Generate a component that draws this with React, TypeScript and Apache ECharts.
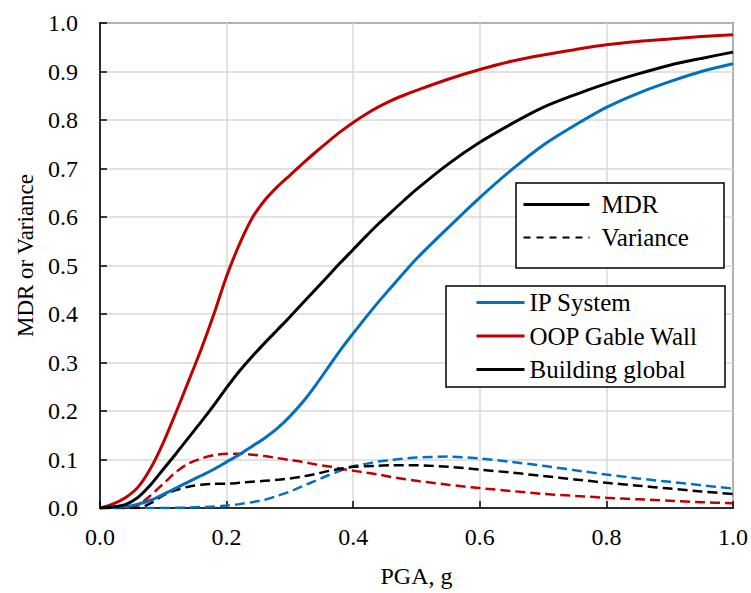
import React, { useEffect, useRef } from "react";
import * as echarts from "echarts";

const pga = [0, 0.02, 0.04, 0.06, 0.08, 0.1, 0.12, 0.14, 0.16, 0.18, 0.2, 0.22, 0.24, 0.26, 0.28, 0.3, 0.32, 0.34, 0.36, 0.38, 0.4, 0.42, 0.44, 0.46, 0.48, 0.5, 0.55, 0.6, 0.65, 0.7, 0.75, 0.8, 0.85, 0.9, 0.95, 1.0];

const ipMdr = [0, 0.001, 0.003, 0.008, 0.016, 0.028, 0.041, 0.054, 0.067, 0.08, 0.095, 0.11, 0.127, 0.144, 0.164, 0.189, 0.218, 0.252, 0.289, 0.326, 0.36, 0.393, 0.425, 0.455, 0.485, 0.514, 0.578, 0.64, 0.697, 0.748, 0.789, 0.826, 0.855, 0.879, 0.9, 0.916];
const oopMdr = [0, 0.008, 0.021, 0.043, 0.082, 0.135, 0.197, 0.262, 0.328, 0.4, 0.478, 0.543, 0.597, 0.634, 0.662, 0.686, 0.71, 0.733, 0.755, 0.776, 0.795, 0.812, 0.827, 0.84, 0.851, 0.861, 0.884, 0.904, 0.921, 0.934, 0.945, 0.955, 0.962, 0.967, 0.972, 0.976];
const bldMdr = [0, 0.002, 0.007, 0.022, 0.048, 0.08, 0.112, 0.145, 0.178, 0.212, 0.248, 0.282, 0.312, 0.34, 0.367, 0.394, 0.422, 0.45, 0.478, 0.506, 0.533, 0.56, 0.586, 0.61, 0.634, 0.657, 0.709, 0.754, 0.792, 0.826, 0.852, 0.875, 0.895, 0.913, 0.927, 0.94];

const ipVar = [0, 0, 0, 0, 0, 0, 0.0005, 0.001, 0.002, 0.003, 0.005, 0.008, 0.012, 0.017, 0.025, 0.034, 0.045, 0.056, 0.067, 0.077, 0.086, 0.091, 0.096, 0.099, 0.102, 0.104, 0.106, 0.102, 0.095, 0.087, 0.078, 0.069, 0.061, 0.054, 0.047, 0.04];
const oopVar = [0, 0, 0, 0.006, 0.026, 0.05, 0.074, 0.092, 0.102, 0.109, 0.112, 0.112, 0.11, 0.107, 0.103, 0.099, 0.095, 0.09, 0.086, 0.081, 0.077, 0.073, 0.069, 0.064, 0.06, 0.056, 0.048, 0.041, 0.035, 0.029, 0.025, 0.021, 0.018, 0.015, 0.012, 0.01];
const bldVar = [0, 0, 0, 0, 0.01, 0.026, 0.037, 0.044, 0.048, 0.05, 0.05, 0.052, 0.054, 0.056, 0.058, 0.061, 0.065, 0.07, 0.076, 0.081, 0.085, 0.086, 0.087, 0.088, 0.088, 0.088, 0.085, 0.079, 0.073, 0.066, 0.059, 0.052, 0.046, 0.04, 0.034, 0.029];

const styleLegend = ["MDR", "Variance"];
const systemLegend = ["IP System", "OOP Gable Wall", "Building global"];

const BLUE = "#0070C0";
const RED = "#C00000";
const BLACK = "#000000";
const FONT = "Liberation Serif";
const DASH = [10, 5];

const pairs = (ys: number[]) => pga.map((x, i) => [x, ys[i]]);

export default function App() {
  const ref = useRef<HTMLDivElement>(null);
  useEffect(() => {
    if (!ref.current) return;
    const chart = echarts.init(ref.current, undefined, { renderer: "svg" });
    const line = (name: string, color: string, ys: number[] | null, dashed: boolean) => ({
      name,
      type: "line",
      data: ys ? pairs(ys) : [],
      smooth: 0.3,
      symbol: "none",
      showSymbol: false,
      itemStyle: { color },
      lineStyle: dashed ? { color, width: 2.5, type: DASH } : { color, width: 3 },
      z: dashed ? 2 : 3,
    });
    const legendText = { fontFamily: FONT, fontSize: 25, color: BLACK };
    chart.setOption({
      animation: false,
      backgroundColor: "#fff",
      textStyle: { fontFamily: FONT },
      grid: {
        left: 100,
        right: 18,
        top: 23,
        bottom: 82,
        show: true,
        borderColor: BLACK,
        borderWidth: 1.5,
      },
      legend: [
        {
          data: [
            { name: styleLegend[0] },
            { name: styleLegend[1], lineStyle: { width: 2, type: [7, 6] } },
          ],
          orient: "vertical",
          left: 522,
          top: 192,
          padding: 0,
          itemWidth: 66,
          itemHeight: 14,
          itemGap: 8,
          selectedMode: false,
          z: 20,
          itemStyle: { opacity: 0 },
          lineStyle: { width: 3 },
          textStyle: { ...legendText, padding: [0, 0, 0, 7] },
        },
        {
          data: systemLegend,
          orient: "vertical",
          left: 475,
          top: 290,
          padding: 0,
          itemWidth: 48,
          itemHeight: 14,
          itemGap: 8.5,
          selectedMode: false,
          z: 20,
          itemStyle: { opacity: 0 },
          lineStyle: { width: 3 },
          textStyle: legendText,
        },
      ],
      xAxis: {
        type: "value",
        min: 0,
        max: 1,
        interval: 0.2,
        name: "PGA, g",
        nameLocation: "middle",
        nameGap: 56,
        nameTextStyle: { fontFamily: FONT, fontSize: 24, color: BLACK },
        axisLine: { show: true, lineStyle: { color: BLACK, width: 1.5 } },
        axisTick: { show: true, inside: true, length: 7, lineStyle: { color: BLACK, width: 1.5 } },
        axisLabel: {
          fontFamily: FONT,
          fontSize: 24,
          color: BLACK,
          margin: 17,
          formatter: (v: number) => v.toFixed(1),
        },
        splitLine: { show: true, lineStyle: { color: "#d9d9d9", width: 1.5 } },
      },
      yAxis: {
        type: "value",
        min: 0,
        max: 1,
        interval: 0.1,
        name: "MDR or Variance",
        nameLocation: "middle",
        nameGap: 62,
        nameTextStyle: { fontFamily: FONT, fontSize: 23, color: BLACK, padding: [0, 0, 0, 20] },
        axisLine: { show: true, lineStyle: { color: BLACK, width: 1.5 } },
        axisTick: { show: true, inside: true, length: 7, lineStyle: { color: BLACK, width: 1.5 } },
        axisLabel: {
          fontFamily: FONT,
          fontSize: 24,
          color: BLACK,
          margin: 22,
          formatter: (v: number) => v.toFixed(1),
        },
        splitLine: { show: true, lineStyle: { color: "#d9d9d9", width: 1.5 } },
      },
      series: [
        line("IP System Variance", BLUE, ipVar, true),
        line("OOP Gable Wall Variance", RED, oopVar, true),
        line("Building global Variance", BLACK, bldVar, true),
        line(systemLegend[0], BLUE, ipMdr, false),
        line(systemLegend[1], RED, oopMdr, false),
        line(systemLegend[2], BLACK, bldMdr, false),
        line(styleLegend[0], BLACK, null, false),
        line(styleLegend[1], BLACK, null, true),
      ],
      graphic: [
        {
          type: "rect",
          z: 10,
          shape: { x: 516, y: 183, width: 208, height: 85 },
          style: { fill: "#fff", stroke: BLACK, lineWidth: 1.5 },
        },
        {
          type: "rect",
          z: 10,
          shape: { x: 446, y: 286, width: 279, height: 101 },
          style: { fill: "#fff", stroke: BLACK, lineWidth: 1.5 },
        },
      ],
    });
    return () => chart.dispose();
  }, []);
  return <div ref={ref} style={{ position: "fixed", left: 0, top: 0, width: 751, height: 593 }} />;
}
